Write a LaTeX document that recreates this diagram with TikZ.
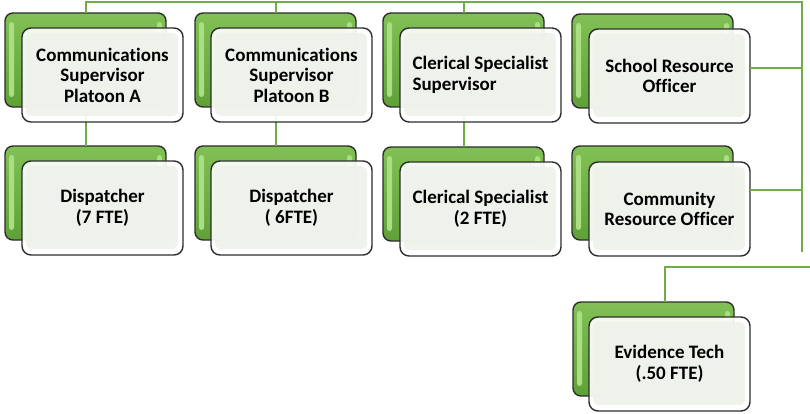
\documentclass[tikz,border=0pt]{standalone}
\usepackage{fontspec}
\setmainfont{Carlito}[Ligatures=CommonOff]
\definecolor{lineG}{RGB}{112,173,71}
\definecolor{gTop}{RGB}{128,192,84}
\definecolor{gBot}{RGB}{96,160,56}
\definecolor{gHi}{RGB}{170,222,130}
\definecolor{wIn}{RGB}{238,242,235}
\definecolor{edgeC}{RGB}{45,45,45}
\begin{document}
\begin{tikzpicture}[x=1pt,y=-1pt,
  conn/.style={draw=lineG, line width=2pt},
  gbox/.style={draw=edgeC, line width=1.4pt, rounded corners=8pt,
    minimum width=161pt, minimum height=94pt, inner sep=0pt, outer sep=0pt,
    anchor=north west, top color=gTop, bottom color=gBot,
    path picture={
      \fill[gHi, rounded corners=2.5pt] ([xshift=4pt,yshift=-9pt]path picture bounding box.north west) rectangle ([xshift=9pt,yshift=10pt]path picture bounding box.south west);
      \fill[gHi, rounded corners=2.5pt] ([xshift=-9pt,yshift=-9pt]path picture bounding box.north east) rectangle ([xshift=-4pt,yshift=10pt]path picture bounding box.south east);
    }},
  wbox/.style={draw=edgeC, line width=1.4pt, rounded corners=9pt,
    minimum width=161pt, minimum height=94pt, inner sep=0pt, outer sep=0pt,
    anchor=north west, fill=white, fill opacity=0.9, text opacity=1,
    font=\fontsize{19}{20.5}\selectfont\bfseries, align=center,
    path picture={
      \fill[wIn, rounded corners=6pt] ([xshift=4pt,yshift=-5pt]path picture bounding box.north west) rectangle ([xshift=-5pt,yshift=6pt]path picture bounding box.south east);
    }},
]
\useasboundingbox (0,0) rectangle (810,414);

% green back boxes
\node[gbox] (g1) at (5,13) {};
\node[gbox] (g2) at (195,13) {};
\node[gbox] (g3) at (383,13) {};
\node[gbox] (g4) at (572,14) {};
\node[gbox] (g5) at (5,146) {};
\node[gbox] (g6) at (195,146) {};
\node[gbox] (g7) at (383,147) {};
\node[gbox] (g8) at (572,146) {};
\node[gbox] (g9) at (573,302) {};

% connectors
\coordinate (busR) at (802,2);
\coordinate (busB) at (802,252);
\coordinate (s1) at (802,68);
\coordinate (s2) at (802,190);
\coordinate (ev) at (810,267);
\coordinate (evk) at (665,267);
\draw[conn] (g1.north) |- (busR) -- (busB);
\draw[conn] (g2.north) -- (g2.north |- busR);
\draw[conn] (g3.north) -- (g3.north |- busR);
\draw[conn] (g1.south) -- (g5.north);
\draw[conn] (g2.south) -- (g6.north);
\draw[conn] (g3.south) -- (g7.north);
\draw[conn] (ev) -- (evk) -- (evk |- g9.north);

% white front boxes
\node[wbox] (w1) at (22,28) {Communications\\Supervisor\\Platoon A};
\node[wbox] (w2) at (211,28) {Communications\\Supervisor\\Platoon B};
\node[wbox, align=left] (w3) at (400,28) {Clerical Specialist\\Supervisor};
\node[wbox] (w4) at (589,29) {School Resource\\Officer};
\node[wbox] (w5) at (22,161) {Dispatcher\\(7 FTE)};
\node[wbox] (w6) at (211,161) {Dispatcher\\( 6FTE)};
\node[wbox] (w7) at (400,162) {Clerical Specialist\\(2 FTE)};
\node[wbox] (w8) at (589,162) {Community\\Resource Officer};
\node[wbox] (w9) at (589,317) {Evidence Tech\\(.50 FTE)};

\draw[conn] (s1) -- (s1 -| w4.east);
\draw[conn] (s2) -- (s2 -| w8.east);
\end{tikzpicture}
\end{document}
